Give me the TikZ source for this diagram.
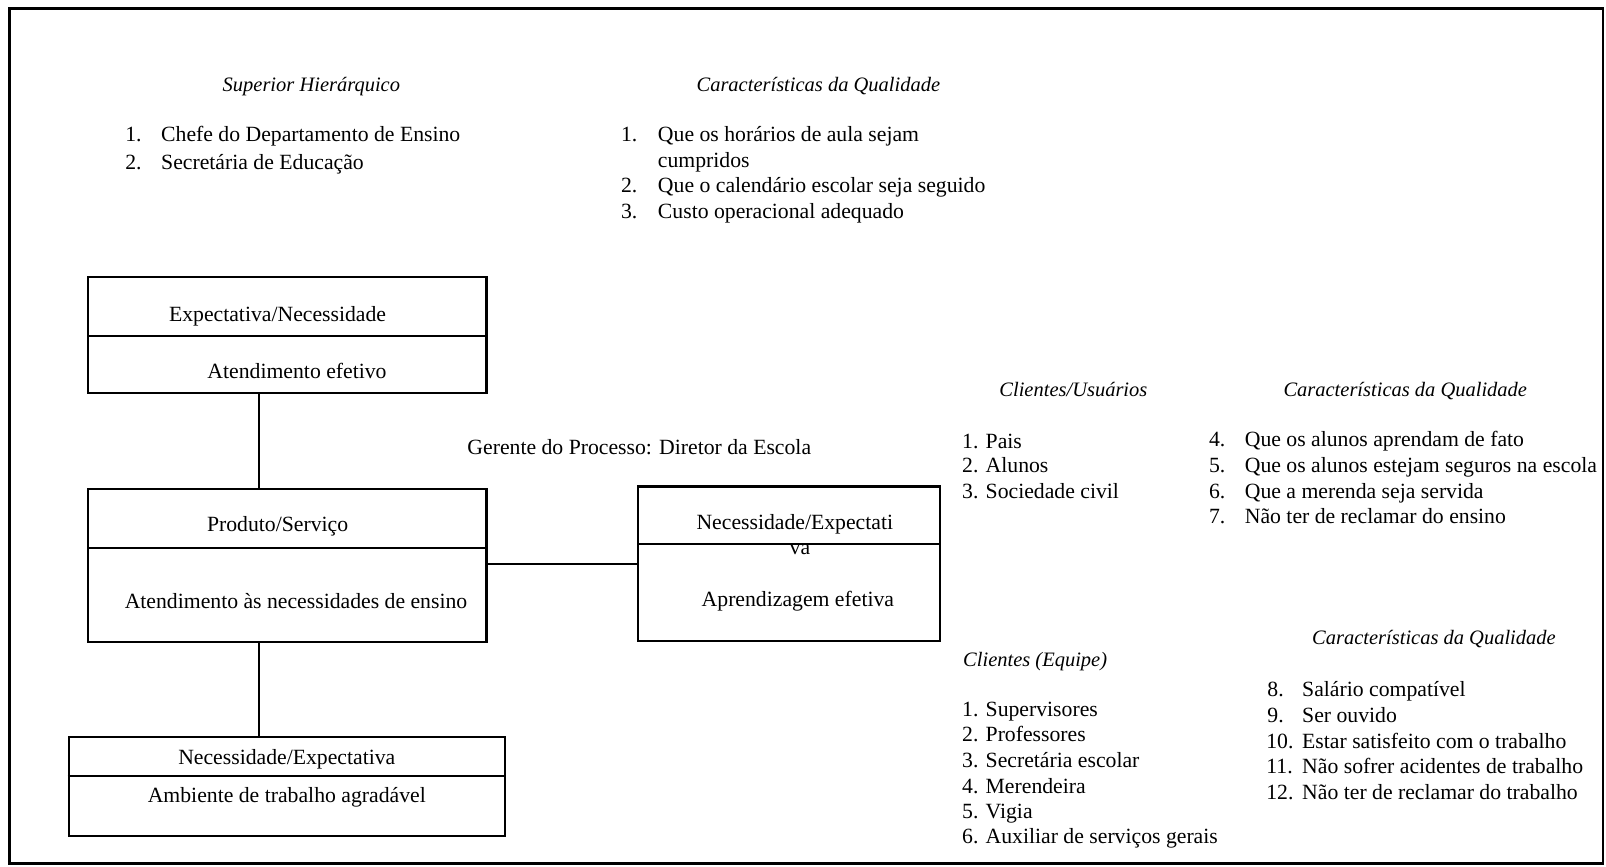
\documentclass[tikz,border=0pt]{standalone}
\usepackage{fontspec}
\setmainfont{Liberation Serif}
\usetikzlibrary{fit}
\begin{document}
\begin{tikzpicture}[x=0.5pt,y=-0.5pt,
  every node/.style={inner sep=0pt, font=\fontsize{10.6}{12.5}\selectfont},
  lbl/.style={anchor=base, yshift=-0.7pt},
  lft/.style={anchor=base west, yshift=-0.7pt},
  head/.style={anchor=base, yshift=-0.7pt, font=\fontsize{10}{12.5}\selectfont\itshape},
  headl/.style={anchor=base west, yshift=-0.7pt, font=\fontsize{10}{12.5}\selectfont\itshape},
  box/.style={draw, line width=1pt, inner sep=0pt},
  divline/.style={line width=1pt},
  conn/.style={line width=1pt},
  frame/.style={line width=1.3pt}
]
\useasboundingbox (0,0) rectangle (1568,846);
\draw[frame] (9,8) rectangle (1565,843);

% top left
\node[head] (h1) at (304,88) {Superior Hierárquico};
\node[lft] (n11) at (122,137) {1.};
\node[lft] (t11) at (157,137) {Chefe do Departamento de Ensino};
\node[lft] (n12) at (122,164) {2.};
\node[lft] (t12) at (157,164) {Secretária de Educação};

% top middle
\node[head] (h2) at (799,88) {Características da Qualidade};
\node[lft] (n21) at (606,137) {1.};
\node[lft] (t21) at (642,137) {Que os horários de aula sejam};
\node[lft] (t21b) at (642,162) {cumpridos};
\node[lft] (n22) at (606,187) {2.};
\node[lft] (t22) at (642,187) {Que o calendário escolar seja seguido};
\node[lft] (n23) at (606,212) {3.};
\node[lft] (t23) at (642,212) {Custo operacional adequado};

% boxes
\node[box, fit={(86,270) (475,384)}] (b1) {};
\node[box, fit={(86,477) (475,627)}] (b2) {};
\node[box, fit={(623,475) (918,626)}] (b3) {};
\node[box, fit={(67,720) (493,816)}] (b4) {};
\coordinate (d1) at (0,328);
\coordinate (d2) at (0,535);
\coordinate (d3) at (0,531);
\coordinate (d4) at (0,758);
\draw[divline] (b1.west |- d1) -- (b1.east |- d1);
\draw[divline] (b2.west |- d2) -- (b2.east |- d2);
\draw[divline] (b3.west |- d3) -- (b3.east |- d3);
\draw[divline] (b4.west |- d4) -- (b4.east |- d4);

\node[lbl] (b1a) at (271,312) {Expectativa/Necessidade};
\node[lbl] (b1b) at (290,368) {Atendimento efetivo};
\node[lbl] (b2a) at (271,518) {Produto/Serviço};
\node[lbl] (b2b) at (289,593) {Atendimento às necessidades de ensino};
\node[lbl] (b3a) at (776,516) {Necessidade/Expectati};
\node[lbl] (b3a2) at (781,540) {va};
\node[lbl] (b3b) at (779,591) {Aprendizagem efetiva};
\node[lbl] (b4a) at (280,745) {Necessidade/Expectativa};
\node[lbl] (b4b) at (280,782) {Ambiente de trabalho agradável};

\node[lft] (ger) at (456,442) {Gerente do Processo: Diretor da Escola};

% connectors
\coordinate (vx) at (253,0);
\coordinate (hy) at (0,551);
\draw[conn] (b1.south -| vx) -- (b2.north -| vx);
\draw[conn] (b2.south -| vx) -- (b4.north -| vx);
\draw[conn] (b2.east |- hy) -- (b3.west |- hy);

% right: clientes/usuarios
\node[head] (h3) at (1048,386) {Clientes/Usuários};
\node[lft] (c1) at (939,436) {1. Pais};
\node[lft] (c2) at (939,460) {2. Alunos};
\node[lft] (c3) at (939,485) {3. Sociedade civil};

\node[head] (h4) at (1372,386) {Características da Qualidade};
\node[lft] (n44) at (1180,435) {4.};
\node[lft] (t44) at (1215,435) {Que os alunos aprendam de fato};
\node[lft] (n45) at (1180,460) {5.};
\node[lft] (t45) at (1215,460) {Que os alunos estejam seguros na escola};
\node[lft] (n46) at (1180,485) {6.};
\node[lft] (t46) at (1215,485) {Que a merenda seja servida};
\node[lft] (n47) at (1180,510) {7.};
\node[lft] (t47) at (1215,510) {Não ter de reclamar do ensino};

% right: equipe
\node[headl] (h5) at (940,649) {Clientes (Equipe)};
\node[lft] (e1) at (939,698) {1. Supervisores};
\node[lft] (e2) at (939,723) {2. Professores};
\node[lft] (e3) at (939,748) {3. Secretária escolar};
\node[lft] (e4) at (939,773) {4. Merendeira};
\node[lft] (e5) at (939,798) {5. Vigia};
\node[lft] (e6) at (939,822) {6. Auxiliar de serviços gerais};

\node[head] (h6) at (1400,628) {Características da Qualidade};
\node[lft] (n58) at (1237,679) {8.};
\node[lft] (t58) at (1271,679) {Salário compatível};
\node[lft] (n59) at (1237,704) {9.};
\node[lft] (t59) at (1271,704) {Ser ouvido};
\node[lft] (n510) at (1236,729) {10.};
\node[lft] (t510) at (1271,729) {Estar satisfeito com o trabalho};
\node[lft] (n511) at (1236,754) {11.};
\node[lft] (t511) at (1271,754) {Não sofrer acidentes de trabalho};
\node[lft] (n512) at (1236,779) {12.};
\node[lft] (t512) at (1271,779) {Não ter de reclamar do trabalho};
\end{tikzpicture}
\end{document}
